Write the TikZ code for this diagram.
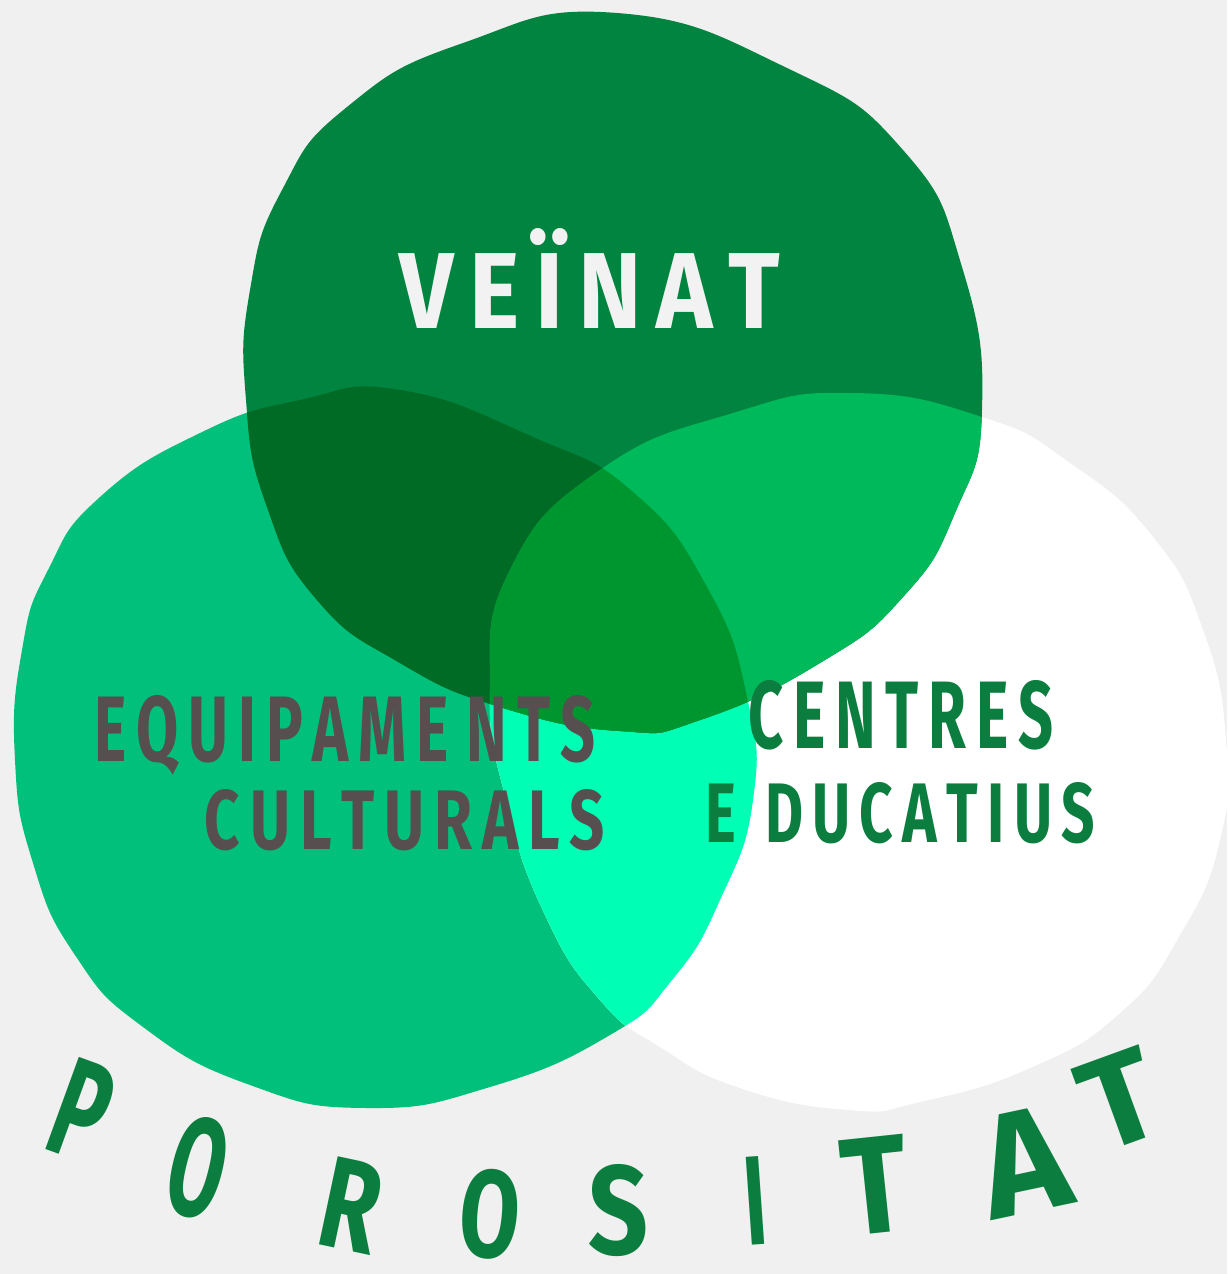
\documentclass[tikz,border=0pt]{standalone}
\usepackage{fontspec}
\usepackage{graphicx}
\setmainfont{Fira Sans}
\definecolor{bgc}{HTML}{F0F0F0}
\definecolor{ctop}{HTML}{00843F}
\definecolor{cleft}{HTML}{00C07B}
\definecolor{cright}{HTML}{FFFFFF}
\definecolor{ctl}{HTML}{006B24}
\definecolor{ctr}{HTML}{00B95A}
\definecolor{clr}{HTML}{00FFB4}
\definecolor{call}{HTML}{00962F}
\definecolor{greytxt}{HTML}{574E50}
\definecolor{greentxt}{HTML}{0B7D3E}
\definecolor{whitetxt}{HTML}{F2F2F2}
\newcommand\ks{\kern0.16em}
\tikzset{
  lbl/.style={inner sep=0pt, font=\bfseries},
  porletter/.style={lbl, text=greentxt}
}
\begin{document}
\begin{tikzpicture}[x=1pt,y=-1pt]
\def\blobT{plot[smooth cycle,tension=0.85] coordinates {(617,13) (787,68) (903,150) (962,267) (982,410) (955,513) (903,597) (820,663) (700,720) (620,731) (500,707) (400,663) (317,600) (267,507) (246,400) (250,290) (282,190) (347,107) (463,43)}}
\def\blobL{plot[smooth cycle,tension=0.85] coordinates {(400,390) (533,437) (633,492) (707,587) (747,697) (753,800) (720,900) (672,980) (610,1035) (490,1087) (367,1108) (250,1085) (143,1027) (75,955) (33,863) (15,760) (22,650) (48,570) (100,497) (200,433) (300,400)}}
\def\blobR{plot[smooth cycle,tension=0.85] coordinates {(600,470) (733,413) (853,393) (982,417) (1070,463) (1153,537) (1203,630) (1226,740) (1220,840) (1180,935) (1120,1013) (1030,1068) (920,1102) (848,1110) (740,1088) (660,1047) (600,1000) (545,915) (506,800) (490,690) (510,570)}}
\useasboundingbox (0,0) rectangle (1227,1274);
\fill[bgc] (0,0) rectangle (1227,1274);
\fill[cleft] \blobL;
\fill[cright] \blobR;
\begin{scope}
  \clip \blobL;
  \fill[clr] \blobR;
\end{scope}
\fill[ctop] \blobT;
\begin{scope}
  \clip \blobT;
  \fill[ctl] \blobL;
  \fill[ctr] \blobR;
\end{scope}
\begin{scope}
  \clip \blobT;
  \clip \blobL;
  \fill[call] \blobR;
\end{scope}
% labels
\node[lbl, text=whitetxt] (veinat) at (590,278) {\resizebox{380pt}{100pt}{V\ks E\ks Ï\ks N\ks A\ks T}};
\node[lbl, text=greytxt] (equip) at (345,735) {\resizebox{500pt}{66pt}{E\ks Q\ks U\ks I\ks P\ks A\ks M\ks E\kern0.3em N\ks T\ks S}};
\node[lbl, text=greytxt] (cult) at (405,820) {\resizebox{400pt}{60pt}{C\ks U\ks L\ks T\ks U\ks R\ks A\ks L\ks S}};
\node[lbl, text=greentxt] (centres) at (901,715) {\resizebox{305pt}{68pt}{C\ks E\ks N\ks T\ks R\ks E\ks S}};
\node[lbl, text=greentxt] (educ) at (900,813) {\resizebox{390pt}{60pt}{E\kern0.5em D\ks U\ks C\ks A\ks T\ks I\ks U\ks S}};
% POROSITAT
\node[porletter, rotate=-20] (p1) at (82,1110) {\resizebox{52pt}{98pt}{P}};
\node[porletter, rotate=-14] (o1) at (198,1168) {\resizebox{55pt}{100pt}{O}};
\node[porletter, rotate=-12] (r1) at (351,1205) {\resizebox{58pt}{90pt}{R}};
\node[porletter, rotate=-5] (o2) at (490,1214) {\resizebox{60pt}{88pt}{O}};
\node[porletter, rotate=0] (s1) at (618,1211) {\resizebox{60pt}{90pt}{S}};
\node[porletter, rotate=4] (i1) at (755,1201) {\resizebox{22pt}{88pt}{I}};
\node[porletter, rotate=6] (t1) at (875,1185) {\resizebox{66pt}{96pt}{T}};
\node[porletter, rotate=12] (a1) at (1024,1162) {\resizebox{86pt}{102pt}{A}};
\node[porletter, rotate=20] (t2) at (1120,1100) {\resizebox{74pt}{90pt}{T}};
\end{tikzpicture}
\end{document}
